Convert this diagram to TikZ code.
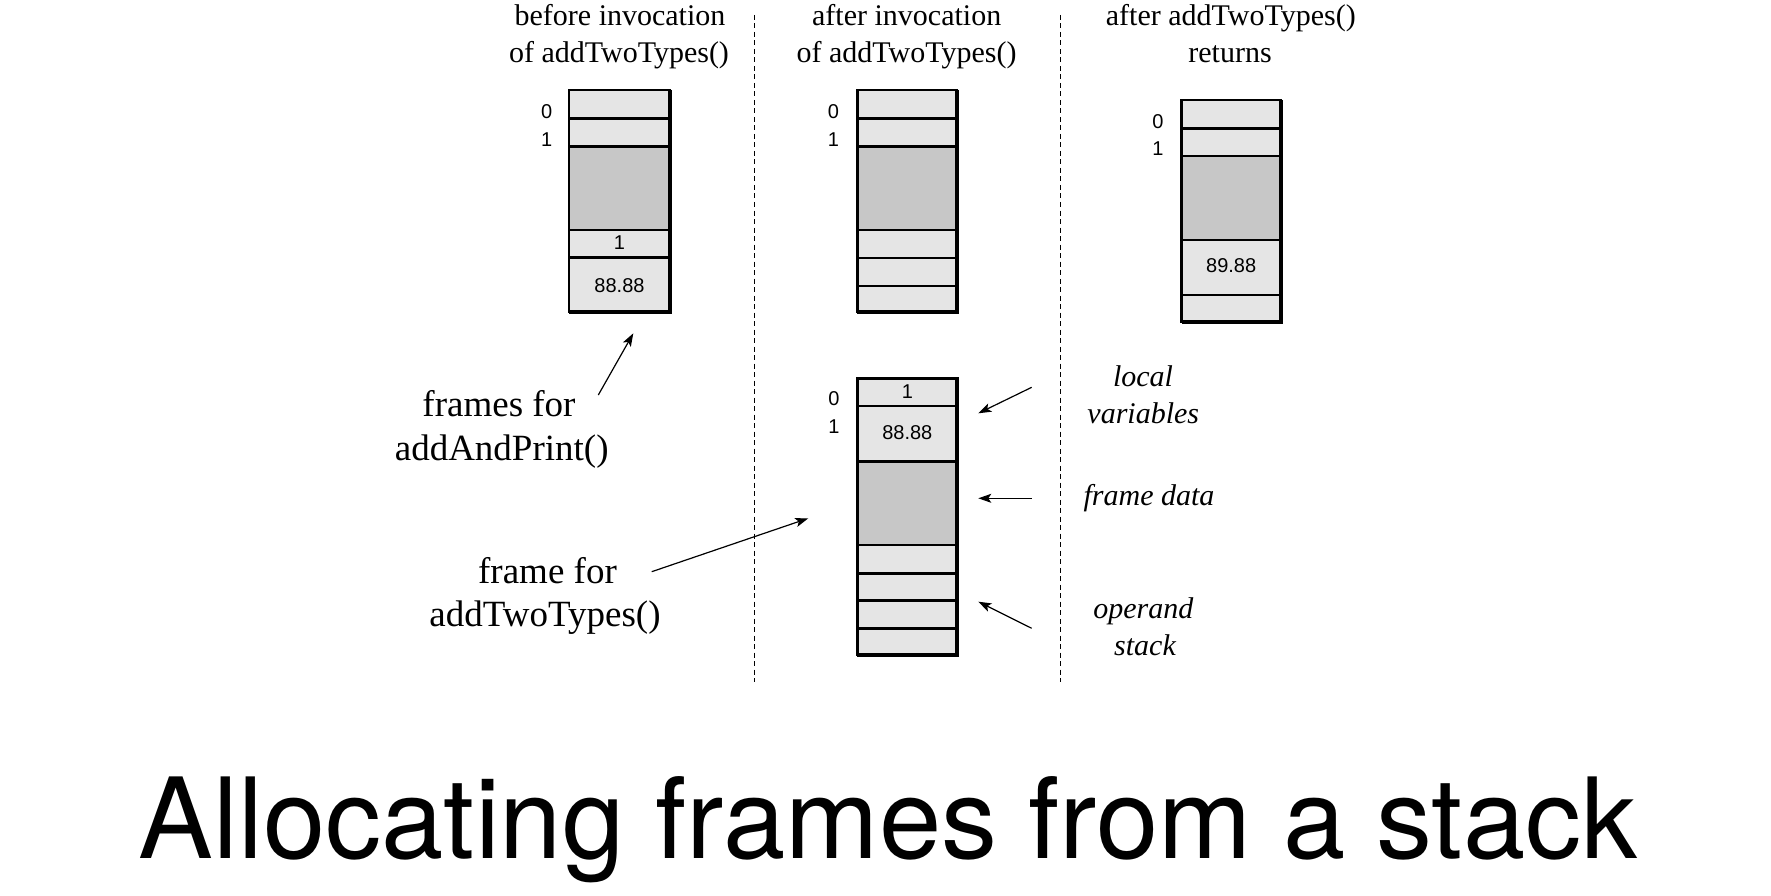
\documentclass[tikz,border=0pt]{standalone}
\usepackage{fontspec}
\setmainfont{Liberation Serif}
\newfontfamily\numfont{Liberation Sans}
\newfontfamily\titlefont{TeX Gyre Heros}
\usetikzlibrary{arrows.meta}
\definecolor{cellL}{gray}{0.90}
\definecolor{cellD}{gray}{0.78}
\tikzset{
 lite/.style={fill=cellL},
 dark/.style={fill=cellD},
 divider/.style={line width=2.5pt},
 outline/.style={line width=2.5pt, line join=miter},
 heavy/.style={line width=4pt, line join=miter},
 sep/.style={dash pattern=on 5pt off 3.5pt, line width=1.3pt},
 ptr/.style={line width=1.2pt, -{Stealth[length=13pt,width=9pt,inset=3pt]}},
 head/.style={font=\fontsize{30}{36}\selectfont, anchor=base, inner sep=0},
 side/.style={font=\fontsize{37}{44}\selectfont, anchor=base, inner sep=0},
 note/.style={font=\fontsize{30}{36}\selectfont\itshape, anchor=base, inner sep=0},
 num/.style={font=\numfont\fontsize{20}{24}\selectfont, inner sep=0},
 bigtitle/.style={font=\titlefont\fontsize{112}{130}\selectfont, anchor=base, inner sep=0},
}
\begin{document}
\begin{tikzpicture}[x=1pt,y=-1pt]
\useasboundingbox (0,0) rectangle (1771,896);

% ---------- column headings ----------
\node[head] (h1a) at (620,26) {before invocation};
\node[head] (h1b) at (619,63) {of addTwoTypes()};
\node[head] (h2a) at (906.7,26) {after invocation};
\node[head] (h2b) at (906.5,63) {of addTwoTypes()};
\node[head] (h3a) at (1230.8,26) {after addTwoTypes()};
\node[head] (h3b) at (1230,63) {returns};

% ---------- separators ----------
\coordinate (d1t) at (754.3,15);
\coordinate (d1b) at (754.3,681.7);
\coordinate (d2t) at (1060.7,15);
\coordinate (d2b) at (1060.7,681.7);
\draw[sep] (d1t) -- (d1b);
\draw[sep] (d2t) -- (d2b);

% ---------- stack A ----------
\fill[lite] (569,90) rectangle (670,311.7);
\fill[dark] (569,146.7) rectangle (670,230);
\foreach \y in {118.3,146.7,230,257.7} \draw[divider] (569,\y) -- (670,\y);
\draw[outline] (569,90) rectangle (670,311.7);
\draw[heavy] (670,90) -- (670,311.7) -- (569,311.7);
\node[num] (a0) at (546.7,111.7) {0};
\node[num] (a1) at (546.7,140) {1};
\node[num] (av1) at (619.5,242.5) {1};
\node[num] (av2) at (619.5,285.5) {88.88};

% ---------- stack B ----------
\fill[lite] (857.3,90) rectangle (956.7,311.7);
\fill[dark] (857.3,146.7) rectangle (956.7,230);
\foreach \y in {118.3,146.7,230,258,286} \draw[divider] (857.3,\y) -- (956.7,\y);
\draw[outline] (857.3,90) rectangle (956.7,311.7);
\draw[heavy] (956.7,90) -- (956.7,311.7) -- (857.3,311.7);
\node[num] (b0) at (833.3,111.7) {0};
\node[num] (b1) at (833.3,140) {1};

% ---------- stack C ----------
\fill[lite] (1181.7,100) rectangle (1280.7,321.7);
\fill[dark] (1181.7,156) rectangle (1280.7,240);
\foreach \y in {128.3,156,240,295} \draw[divider] (1181.7,\y) -- (1280.7,\y);
\draw[outline] (1181.7,100) rectangle (1280.7,321.7);
\draw[heavy] (1280.7,100) -- (1280.7,321.7) -- (1181.7,321.7);
\node[num] (c0) at (1158,121.7) {0};
\node[num] (c1) at (1158,148.5) {1};
\node[num] (cv1) at (1231.2,266) {89.88};

% ---------- stack D ----------
\fill[lite] (857.3,378.3) rectangle (957.3,655);
\fill[dark] (857.3,461.7) rectangle (957.3,545);
\foreach \y in {406,461.7,545,573.3,600.7,628.7} \draw[divider] (857.3,\y) -- (957.3,\y);
\draw[outline] (857.3,378.3) rectangle (957.3,655);
\draw[heavy] (957.3,378.3) -- (957.3,655) -- (857.3,655);
\node[num] (d0) at (834,398.3) {0};
\node[num] (d1) at (834,426.7) {1};
\node[num] (dv1) at (907.3,391.5) {1};
\node[num] (dv2) at (907.3,432.5) {88.88};

% ---------- left labels ----------
\node[side] (fa) at (499,416.7) {frames for};
\node[side] (fb) at (501.7,460) {addAndPrint()};
\node[side] (ga) at (547.5,583.3) {frame for};
\node[side] (gb) at (545,626.7) {addTwoTypes()};

% ---------- right labels ----------
\node[note] (la) at (1143,386.7) {local};
\node[note] (lb) at (1143.3,423.3) {variables};
\node[note] (fd) at (1149,505) {frame data};
\node[note] (oa) at (1143.3,618.3) {operand};
\node[note] (ob) at (1145,655) {stack};

% ---------- arrows ----------
\coordinate (p1s) at (598.3,395);   \coordinate (p1e) at (633.3,333.3);
\coordinate (p2s) at (651.7,571.7); \coordinate (p2e) at (808.3,518.3);
\coordinate (p3s) at (1031.7,387.3); \coordinate (p3e) at (978.3,413.3);
\coordinate (p4s) at (1031.7,498.3); \coordinate (p4e) at (978.3,498.3);
\coordinate (p5s) at (1031.7,628.3); \coordinate (p5e) at (978.3,601.7);
\draw[ptr] (p1s) -- (p1e);
\draw[ptr] (p2s) -- (p2e);
\draw[ptr] (p3s) -- (p3e);
\draw[ptr] (p4s) -- (p4e);
\draw[ptr] (p5s) -- (p5e);

% ---------- title ----------
\node[bigtitle] (title) at (888.4,858.3) {Allocating frames from a stack};
\end{tikzpicture}
\end{document}
